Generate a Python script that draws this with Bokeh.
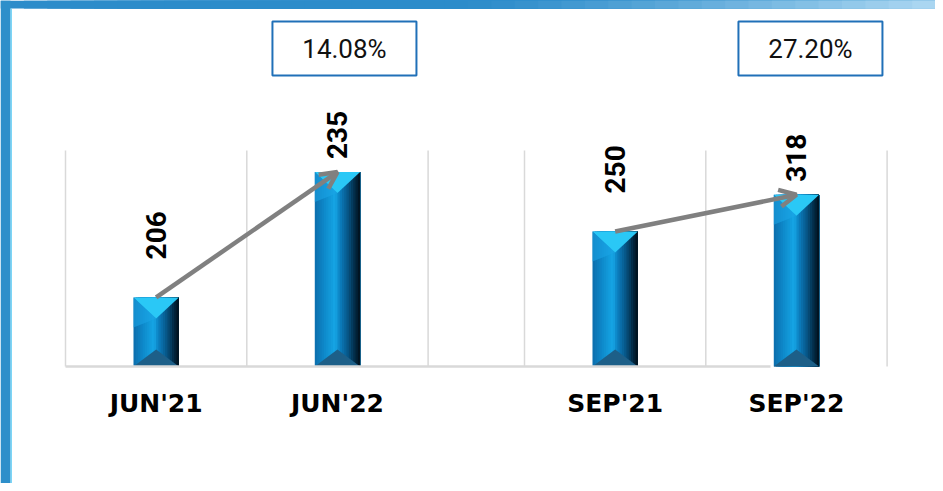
import numpy as np
from bokeh.plotting import figure
from bokeh.models import Range1d, Arrow, OpenHead
from bokeh.core.properties import value
from bokeh.embed import file_html
from bokeh.resources import INLINE

# ---------------- data ----------------
categories_jun = ["JUN'21", "JUN'22"]
values_jun = [206, 235]
categories_sep = ["SEP'21", "SEP'22"]
values_sep = [250, 318]
growth_labels = ["14.08%", "27.20%"]
axis_jun = [190, 240]   # hidden value-axis bounds of the left chart
axis_sep = [0, 400]     # hidden value-axis bounds of the right chart

# ---------------- layout ----------------
W, H = 935, 483
X0, SLOT = 65.0, 181.3     # image x of first gridline, slot width (px)
SEP_SHIFT = (524 - 65) / SLOT
BASE_PY, TOP_PY = 366.0, 150.0
BAR_W = 0.25


def ux(px):
    return (px - X0) / SLOT


def make_range(v0, v1):
    ppu = (BASE_PY - TOP_PY) / (v1 - v0)
    return Range1d(v0 - (H - BASE_PY) / ppu, v1 + TOP_PY / ppu), ppu


yr_jun, ppu_jun = make_range(*axis_jun)
yr_sep, ppu_sep = make_range(*axis_sep)


def py_jun(py):
    return axis_jun[0] + (BASE_PY - py) / ppu_jun


p = figure(width=W, height=H, x_range=Range1d(ux(0), ux(W)), y_range=yr_jun,
           output_backend="svg", toolbar_location=None, min_border=0,
           x_axis_location=None, y_axis_location=None, outline_line_color=None,
           background_fill_color="white", border_fill_color="white")
p.extra_y_ranges = {"sep": yr_sep}
p.grid.visible = False

# slide frame: top gradient band and left bar
band_n = 40
bl, br, bc = [], [], []
c_a, c_b = np.array([44, 140, 202]), np.array([170, 214, 241])
for k in range(band_n):
    t = k / (band_n - 1)
    f = 0.0 if t < 0.5 else ((t - 0.5) / 0.5) ** 1.2
    c = (c_a + (c_b - c_a) * f).round().astype(int)
    bl.append(ux(W * k / band_n))
    br.append(ux(W))
    bc.append("#%02x%02x%02x" % tuple(c))
p.quad(left=bl, right=br, bottom=[py_jun(8)] * band_n, top=[yr_jun.end] * band_n,
       fill_color=bc, line_color=None)
p.quad(left=[ux(0)], right=[ux(10)], bottom=[yr_jun.start], top=[yr_jun.end],
       fill_color="#2e8fca", line_color=None)
p.quad(left=[ux(10)], right=[ux(11.3)], bottom=[yr_jun.start], top=[py_jun(8)],
       fill_color="#5ccbf4", line_color=None)

stops = [(0.0, (12, 110, 172)), (0.22, (14, 138, 203)), (0.45, (22, 166, 230)),
         (0.55, (12, 128, 193)), (0.72, (7, 88, 138)), (0.88, (3, 45, 72)), (1.0, (1, 14, 24))]


def grad(t):
    for (t0, c0), (t1, c1) in zip(stops[:-1], stops[1:]):
        if t0 <= t <= t1:
            f = (t - t0) / (t1 - t0)
            c = [int(round(a + (b - a) * f)) for a, b in zip(c0, c1)]
            return "#%02x%02x%02x" % tuple(c)
    return "#000000"


groups = [
    (categories_jun, values_jun, axis_jun, ppu_jun, 0.0, "default", 7),
    (categories_sep, values_sep, axis_sep, ppu_sep, SEP_SHIFT, "sep", 14),
]
label_gap_px = [38, 13]
N = 20

for gi, g in enumerate(groups):
    cats, vals, ax, ppu, shift, rname, box_dx = g
    v0, v1 = ax
    kw = {} if rname == "default" else {"y_range_name": rname}
    # gridlines
    gx = [shift + k for k in range(3)]
    p.segment(x0=gx, x1=gx, y0=[v0] * 3, y1=[v1] * 3, line_color="#d9d9d9", line_width=1.5, **kw)
    xs = [shift + i + 0.5 for i in range(len(vals))]
    # bars: gradient body (each strip runs to the right edge; later strips cover earlier)
    for xi, val in zip(xs, vals):
        xl, xr = xi - BAR_W / 2, xi + BAR_W / 2
        lefts = [xl + k * BAR_W / N for k in range(N)]
        cols = [grad((k + 0.5) / N) for k in range(N)]
        p.quad(left=lefts, right=[xr] * N, top=[val] * N, bottom=[v0] * N,
               fill_color=cols, line_color=None, **kw)
        # top bevel
        p.patch([xl, xr, xi], [val, val, val - 21 / ppu], fill_color="#2ac8f6", line_color=None, **kw)
        p.patch([xl, xi, xl], [val, val - 21 / ppu, val - 30 / ppu], fill_color="#1aa4e4",
                line_color=None, fill_alpha=0.6, **kw)
        # bottom bevel
        p.patch([xl, xr, xi], [v0, v0, v0 + 17 / ppu], fill_color="#1d5f88", line_color=None, **kw)
    # value labels
    ly = [val + label_gap_px[i] / ppu for i, val in enumerate(vals)]
    p.text(x=xs, y=ly, text=[str(v) for v in vals], angle=np.pi / 2, text_align="left",
           text_baseline="middle", text_font=value("Roboto"), text_font_style="bold",
           text_font_size="28px", text_color="#000000", **kw)
    # category labels
    p.text(x=xs, y=[v0 - 37 / ppu] * len(xs), text=cats, text_align="center",
           text_baseline="middle", text_font=value("DejaVu Sans"), text_font_style="bold",
           text_font_size="25px", text_color="#000000", **kw)
    # growth arrow
    arr = Arrow(x_start=xs[0], y_start=vals[0], x_end=xs[1], y_end=vals[1],
                line_color="#808080", line_width=4.5,
                end=OpenHead(size=17, line_color="#808080", line_width=4.5), **kw)
    p.add_layout(arr)
    # growth box
    bx = xs[1] + box_dx / SLOT
    by = v1 + (TOP_PY - 48) / ppu
    p.rect(x=[bx], y=[by], width=144, height=54, width_units="screen", height_units="screen",
           fill_color="white", line_color="#2070b8", line_width=2, **kw)
    p.text(x=[bx], y=[by], text=[growth_labels[gi]], text_align="center", text_baseline="middle",
           text_font=value("Roboto"), text_font_size="26px", text_color="#111111", **kw)

# baseline
p.segment(x0=[0.0], x1=[ux(770)], y0=[axis_jun[0]], y1=[axis_jun[0]], line_color="#d9d9d9", line_width=2.5)

open("out.html", "w").write(file_html(p, INLINE))
